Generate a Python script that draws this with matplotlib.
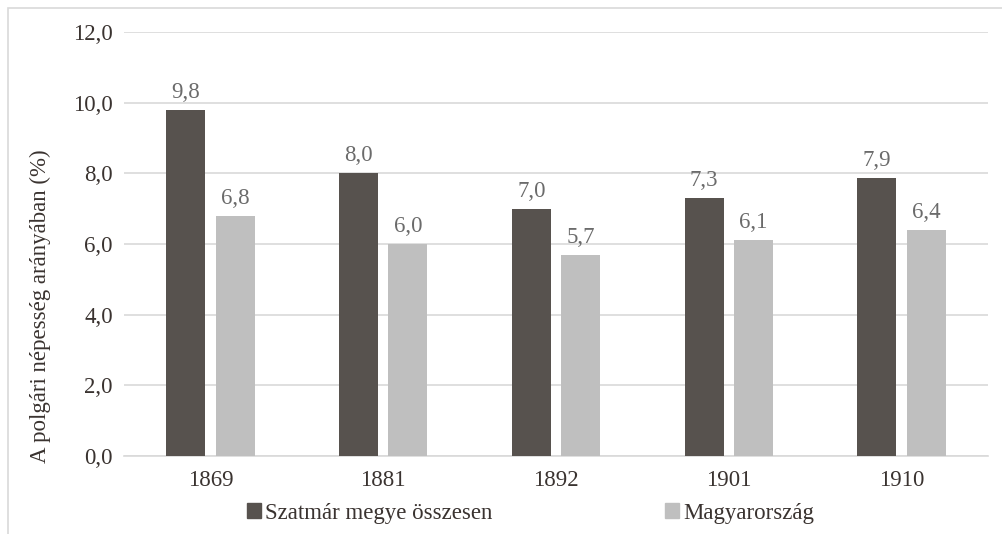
import numpy as np
import matplotlib
matplotlib.use("Agg")
import matplotlib.pyplot as plt
from matplotlib.patches import Rectangle, Patch

years = ["1869", "1881", "1892", "1901", "1910"]
szatmar = [9.8, 8.0, 7.0, 7.3, 7.87]
szatmar_labels = ["9,8", "8,0", "7,0", "7,3", "7,9"]
magyar = [6.8, 6.0, 5.7, 6.1, 6.4]
magyar_labels = ["6,8", "6,0", "5,7", "6,1", "6,4"]
yticks = [0, 2, 4, 6, 8, 10, 12]

plt.rcParams['font.family'] = ['Liberation Serif', 'DejaVu Serif']

dark = "#57524E"
light = "#BFBFBF"
text_col = "#3A3330"
label_col = "#6B6B6B"
fs = 16.5

W, H = 1003, 534
fig = plt.figure(figsize=(W / 100, H / 100), dpi=100)
ax = fig.add_axes([124 / W, 1 - 456 / H, (988 - 124) / W, (456 - 32) / H])

# outer frame (cropped on right and bottom)
fig.patches.append(Rectangle((8 / W, -0.1), 1.2, 1 - 8 / H + 0.1, transform=fig.transFigure,
                             fill=False, edgecolor="#D9D9D9", linewidth=1.2))

x = np.arange(len(years))
bw = 0.225
off = 0.143
b1 = ax.bar(x - off, szatmar, bw, color=dark, zorder=3)
b2 = ax.bar(x + off, magyar, bw, color=light, zorder=3)

for rect, lab in zip(b1, szatmar_labels):
    ax.text(rect.get_x() + rect.get_width() / 2, rect.get_height() + 0.2, lab,
            ha="center", va="bottom", fontsize=fs, color=label_col)
for rect, lab in zip(b2, magyar_labels):
    ax.text(rect.get_x() + rect.get_width() / 2, rect.get_height() + 0.2, lab,
            ha="center", va="bottom", fontsize=fs, color=label_col)

ax.set_xlim(-0.5, len(years) - 0.5)
ax.set_ylim(0, 12)
ax.set_yticks(yticks)
ax.set_yticklabels([f"{v:.1f}".replace(".", ",") for v in yticks])
ax.set_xticks(x)
ax.set_xticklabels(years)
ax.tick_params(axis="both", length=0, labelsize=fs, colors=text_col)
ax.tick_params(axis="y", pad=8)
ax.tick_params(axis="x", pad=10)
ax.yaxis.grid(True, color="#D9D9D9", linewidth=1.2, zorder=0)
ax.set_axisbelow(True)
for s in ["top", "right", "left"]:
    ax.spines[s].set_visible(False)
ax.spines["bottom"].set_color("#D9D9D9")
ax.spines["bottom"].set_linewidth(1.2)

fig.text(40 / W, 1 - 306 / H, "A polgári népesség arányában (%)", rotation=90,
         ha="center", va="center", fontsize=fs, color=text_col)

legend_items = [("Szatmár megye összesen", dark, 247), ("Magyarország", light, 665)]
for name, col, xpos in legend_items:
    fig.legend([Patch(color=col)], [name], loc="center left",
               bbox_to_anchor=(xpos / W, 1 - 513 / H), frameon=False,
               fontsize=fs, handlelength=0.6, handleheight=0.6, handletextpad=0.2,
               borderpad=0, borderaxespad=0, labelcolor=text_col)

fig.savefig("out.png", dpi=100)
